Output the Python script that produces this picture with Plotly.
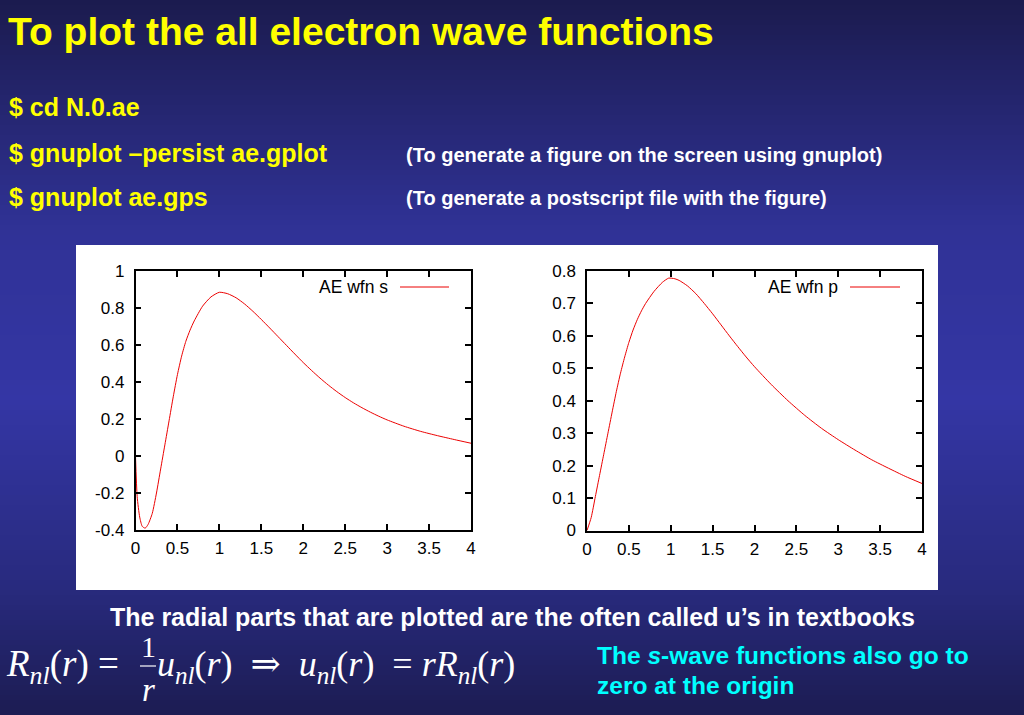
import plotly.graph_objects as go

# ---------------- data ----------------
r_s = [0, 0.02, 0.05, 0.08, 0.115, 0.15, 0.2, 0.25, 0.3, 0.35, 0.4, 0.45, 0.5, 0.55, 0.6, 0.65,
       0.7, 0.8, 0.9, 1.0, 1.1, 1.2, 1.3, 1.4, 1.5, 1.6, 1.7, 1.8, 1.9, 2.0,
       2.1, 2.2, 2.3, 2.4, 2.5, 2.6, 2.7, 2.8, 2.9, 3.0, 3.2, 3.4, 3.6, 3.8, 4.0]
u_s = [0, -0.22, -0.33, -0.38, -0.39, -0.37, -0.31, -0.2, -0.07, 0.06, 0.19, 0.32, 0.44, 0.54, 0.62, 0.68,
       0.73, 0.81, 0.86, 0.885, 0.877, 0.855, 0.822, 0.782, 0.738, 0.692, 0.645, 0.598, 0.551, 0.505,
       0.462, 0.421, 0.383, 0.348, 0.316, 0.287, 0.261, 0.237, 0.215, 0.195, 0.161, 0.133, 0.110, 0.089, 0.069]

r_p = [0, 0.05, 0.1, 0.15, 0.2, 0.25, 0.3, 0.35, 0.4, 0.45, 0.5, 0.55, 0.6, 0.65, 0.7, 0.8, 0.9, 0.975,
       1.05, 1.1, 1.2, 1.3, 1.4, 1.5, 1.6, 1.7, 1.8, 1.9, 2.0,
       2.2, 2.4, 2.6, 2.8, 3.0, 3.2, 3.4, 3.6, 3.8, 4.0]
u_p = [0, 0.04, 0.105, 0.17, 0.235, 0.30, 0.365, 0.428, 0.485, 0.535, 0.58, 0.618, 0.65, 0.677, 0.70, 0.737, 0.765, 0.778,
       0.776, 0.771, 0.754, 0.73, 0.70, 0.668, 0.634, 0.60, 0.567, 0.535, 0.505,
       0.45, 0.40, 0.355, 0.315, 0.28, 0.248, 0.218, 0.192, 0.167, 0.145]

x_ticks = [0, 0.5, 1, 1.5, 2, 2.5, 3, 3.5, 4]
x_ticktext = ["0", "0.5", "1", "1.5", "2", "2.5", "3", "3.5", "4"]
ys_ticks = [-0.4, -0.2, 0, 0.2, 0.4, 0.6, 0.8, 1]
ys_ticktext = ["-0.4", "-0.2", "0", "0.2", "0.4", "0.6", "0.8", "1"]
yp_ticks = [0, 0.1, 0.2, 0.3, 0.4, 0.5, 0.6, 0.7, 0.8]
yp_ticktext = ["0", "0.1", "0.2", "0.3", "0.4", "0.5", "0.6", "0.7", "0.8"]

legend_s = "AE wfn s"
legend_p = "AE wfn p"

W, H = 1024, 715


def px(x):
    return x / W


def py(y):
    return 1 - y / H


SANS = "Liberation Sans, Arial, sans-serif"
SERIF = "Liberation Serif, DejaVu Serif, serif"
LINE_COLOR = "rgb(235,0,0)"

fig = go.Figure()
fig.add_trace(go.Scatter(x=r_s, y=u_s, mode="lines", line=dict(color=LINE_COLOR, width=1, shape="spline", smoothing=0.6),
                         xaxis="x", yaxis="y", showlegend=False))
fig.add_trace(go.Scatter(x=r_p, y=u_p, mode="lines", line=dict(color=LINE_COLOR, width=1, shape="spline", smoothing=0.6),
                         xaxis="x2", yaxis="y2", showlegend=False))

axis_common = dict(showgrid=False, zeroline=False, showline=True, linecolor="black", linewidth=1.5,
                   mirror="ticks", ticks="inside", ticklen=6, tickwidth=1.5, tickcolor="black",
                   tickfont=dict(family=SANS, size=17, color="black"), automargin=False)

fig.update_layout(
    width=W, height=H, autosize=False,
    margin=dict(l=0, r=0, t=0, b=0, pad=0, autoexpand=False),
    paper_bgcolor="rgb(30,30,85)",
    plot_bgcolor="rgba(0,0,0,0)",
    xaxis=dict(domain=[px(135.5), px(471)], range=[0, 4], tickvals=x_ticks, ticktext=x_ticktext,
               anchor="y", ticklabelstandoff=2, **axis_common),
    yaxis=dict(domain=[py(530), py(271)], range=[-0.4, 1], tickvals=ys_ticks, ticktext=ys_ticktext,
               anchor="x", ticklabelstandoff=6, **axis_common),
    xaxis2=dict(domain=[px(587), px(922)], range=[0, 4], tickvals=x_ticks, ticktext=x_ticktext,
                anchor="y2", ticklabelstandoff=2, **axis_common),
    yaxis2=dict(domain=[py(530.5), py(271)], range=[0, 0.8], tickvals=yp_ticks, ticktext=yp_ticktext,
                anchor="x2", ticklabelstandoff=6, **axis_common),
    showlegend=False,
)

# ---------- background gradient ----------
stops = [(-30, (27, 27, 78)), (0, (27, 27, 78)), (230, (48, 50, 150)), (400, (52, 54, 165)),
         (590, (40, 42, 125)), (715, (28, 28, 82)), (745, (28, 28, 82))]


def col_at(y):
    for (y0, c0), (y1, c1) in zip(stops[:-1], stops[1:]):
        if y0 <= y <= y1:
            t = (y - y0) / (y1 - y0)
            return "rgb(%d,%d,%d)" % tuple(round(a + (b - a) * t) for a, b in zip(c0, c1))
    return "rgb(%d,%d,%d)" % stops[-1][1]


shapes = []
step = 5
for y in range(-30, H + 30, step):
    shapes.append(dict(type="rect", xref="paper", yref="paper", x0=-0.05, x1=1.05, y0=py(y + step + 0.5), y1=py(y),
                       fillcolor=col_at(y + step / 2), line=dict(width=0), layer="below"))
# white panel
shapes.append(dict(type="rect", xref="paper", yref="paper", x0=px(76), x1=px(938), y0=py(590), y1=py(245),
                   fillcolor="white", line=dict(width=0), layer="below"))
# legend samples
shapes.append(dict(type="line", xref="paper", yref="paper", x0=px(400), x1=px(449), y0=py(287), y1=py(287),
                   line=dict(color=LINE_COLOR, width=1)))
shapes.append(dict(type="line", xref="paper", yref="paper", x0=px(850), x1=px(900), y0=py(287), y1=py(287),
                   line=dict(color=LINE_COLOR, width=1)))
# fraction bar
shapes.append(dict(type="line", xref="paper", yref="paper", x0=px(140), x1=px(156), y0=py(666), y1=py(666),
                   line=dict(color="white", width=1.2)))
fig.update_layout(shapes=shapes)

YEL = "#ffff00"
ann = []


def text(t, x, y, size, color, family=SANS, xanchor="left", yanchor="middle"):
    ann.append(dict(text=t, x=px(x), y=py(y), xref="paper", yref="paper", xanchor=xanchor, yanchor=yanchor,
                    showarrow=False, font=dict(family=family, size=size, color=color)))


text("<b>To plot the all electron wave functions</b>", 6, 32, 39, YEL)
text("<b>$ cd N.0.ae</b>", 7, 107, 25, YEL)
text("<b>$ gnuplot –persist ae.gplot</b>", 7, 153, 25, YEL)
text("<b>$ gnuplot ae.gps</b>", 7, 197, 25, YEL)
text("<b>(To generate a figure on the screen using gnuplot)</b>", 404, 155, 20, "white")
text("<b>(To generate a postscript file with the figure)</b>", 404, 198, 20, "white")

text(legend_s, 390, 287, 17.5, "black", xanchor="right")
text(legend_p, 840, 287, 17.5, "black", xanchor="right")

text("<b>The radial parts that are plotted are the often called u’s in textbooks</b>", 108, 617, 25, "white")

# formula
text("<i>R</i><sub><i>nl</i></sub>(<i>r</i>)&nbsp;=", 4, 666, 37, "white", family=SERIF)
text("1", 148, 646, 30, "white", family=SERIF, xanchor="center")
text("<i>r</i>", 148, 690, 33, "white", family=SERIF, xanchor="center")
text("<i>u</i><sub><i>nl</i></sub>(<i>r</i>)&nbsp;&nbsp;⇒&nbsp;&nbsp;<i>u</i><sub><i>nl</i></sub>(<i>r</i>)&nbsp;&nbsp;=&nbsp;<i>rR</i><sub><i>nl</i></sub>(<i>r</i>)",
     155, 666, 36, "white", family=SERIF)

CYAN = "#00ffff"
text("<b>The <i>s</i>-wave functions also go to</b>", 595, 655, 24.5, CYAN)
text("<b>zero at the origin</b>", 595, 685, 24.5, CYAN)

fig.update_layout(annotations=ann)
fig.write_html("out.html", config={"displayModeBar": False},
               post_script="document.body.style.margin='0';document.body.style.overflow='hidden';")
